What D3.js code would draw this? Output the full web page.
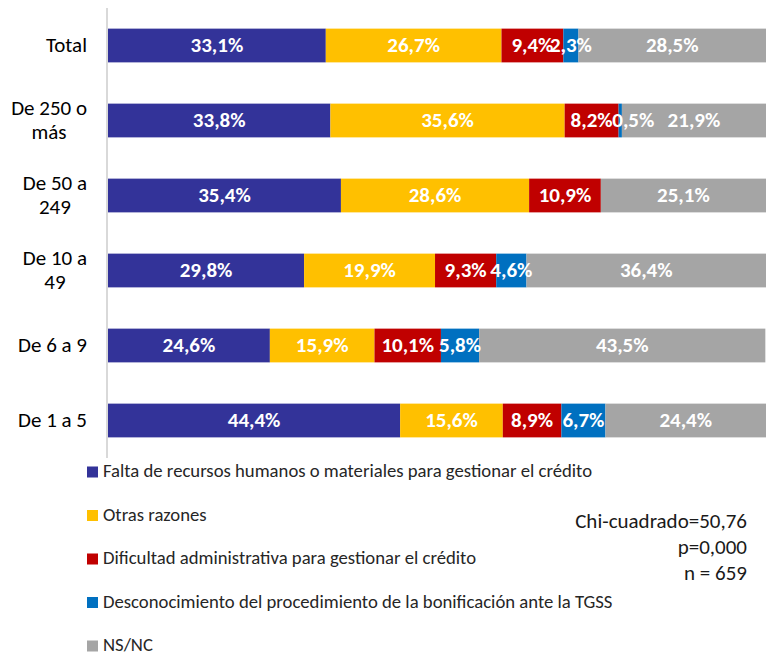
<!DOCTYPE html>
<html>
<head>
<meta charset="utf-8">
<script src="https://cdn.jsdelivr.net/npm/d3@7"></script>
<style>
  body { margin: 0; background: #fff; }
  text { font-family: Carlito, Calibri, Lato, sans-serif; }
</style>
</head>
<body>
<svg width="771" height="655"></svg>
<script>
// data
var categories = ["Total", "De 250 o más", "De 50 a 249", "De 10 a 49", "De 6 a 9", "De 1 a 5"];
var catLines = [["Total"], ["De 250 o", "más"], ["De 50 a", "249"], ["De 10 a", "49"], ["De 6 a 9"], ["De 1 a 5"]];
var series = [
  "Falta de recursos humanos o materiales para gestionar el crédito",
  "Otras razones",
  "Dificultad administrativa para gestionar el crédito",
  "Desconocimiento del procedimiento de la bonificación ante la TGSS",
  "NS/NC"
];
var falta   = [33.1, 33.8, 35.4, 29.8, 24.6, 44.4];
var otras   = [26.7, 35.6, 28.6, 19.9, 15.9, 15.6];
var dificul = [9.4, 8.2, 10.9, 9.3, 10.1, 8.9];
var descon  = [2.3, 0.5, 0, 4.6, 5.8, 6.7];
var nsnc    = [28.5, 21.9, 25.1, 36.4, 43.5, 24.4];
var stats = ["Chi-cuadrado=50,76", "p=0,000", "n = 659"];

var colors = ["#333399", "#FFC000", "#C00000", "#0070C0", "#A5A5A5"];
var allSeries = [falta, otras, dificul, descon, nsnc];

var svg = d3.select("svg");

var rows = categories.map(function(c, i) {
  var r = {cat: c};
  series.forEach(function(s, j) { r[s] = allSeries[j][i]; });
  return r;
});

var stack = d3.stack().keys(series)(rows);

var x = d3.scaleLinear().domain([0, 100]).range([108, 766]);
var y = d3.scaleBand().domain(categories).range([8, 458]).paddingInner(0.55).paddingOuter(0.275);
var z = d3.scaleOrdinal().domain(series).range(colors);

// axis line
svg.append("line")
    .attr("x1", 107).attr("x2", 107)
    .attr("y1", 8).attr("y2", 458)
    .attr("stroke", "#d9d9d9")
    .attr("stroke-width", 2);

svg.append("g")
  .selectAll("g")
  .data(stack)
  .enter().append("g")
    .attr("fill", function(d) { return z(d.key); })
  .selectAll("rect")
  .data(function(d) { return d; })
  .enter().append("rect")
    .attr("x", function(d) { return x(d[0]); })
    .attr("y", function(d) { return y(d.data.cat); })
    .attr("width", function(d) { return x(d[1]) - x(d[0]); })
    .attr("height", y.bandwidth());

// value labels (drawn after all bars)
var segs = [];
stack.forEach(function(s) {
  s.forEach(function(p) { if (p[1] - p[0] > 0) segs.push(p); });
});

svg.append("g")
    .attr("font-size", 21)
    .attr("font-weight", "bold")
    .attr("fill", "#fff")
    .attr("text-anchor", "middle")
  .selectAll("text")
  .data(segs)
  .enter().append("text")
    .attr("x", function(d) {
      var cx = (x(d[0]) + x(d[1])) / 2;
      // very thin segment: label pushed right like the original
      if (d[1] - d[0] < 1) cx += 13;
      return cx;
    })
    .attr("y", function(d) { return y(d.data.cat) + y.bandwidth() / 2; })
    .attr("dy", "0.33em")
    .text(function(d) { return (d[1] - d[0]).toFixed(1).replace(".", ",") + "%"; });

// category labels
var catG = svg.append("g")
    .attr("font-size", 21)
    .attr("fill", "#000");

categories.forEach(function(c, i) {
  var lines = catLines[i];
  var cy = y(c) + y.bandwidth() / 2;
  var lh = 24;
  var t = catG.append("text").attr("text-anchor", "middle");
  var spans = lines.map(function(l, k) {
    return t.append("tspan")
      .attr("y", cy + (k - (lines.length - 1) / 2) * lh)
      .attr("dy", "0.32em")
      .text(l);
  });
  var maxW = d3.max(spans, function(s) { return s.node().getComputedTextLength(); });
  spans.forEach(function(s) { s.attr("x", 87 - maxW / 2); });
});

// legend
var legend = svg.append("g")
    .attr("font-size", 18.7)
  .selectAll("g")
  .data(series)
  .enter().append("g")
    .attr("transform", function(d, i) { return "translate(87," + (477 + i * 43.5) + ")"; });

legend.append("rect")
    .attr("x", 0)
    .attr("y", -10.5)
    .attr("width", 11)
    .attr("height", 11)
    .attr("fill", z);

legend.append("text")
    .attr("x", 16)
    .attr("y", 0)
    .attr("fill", "#262626")
    .text(function(d) { return d; });

// statistics
svg.append("g")
    .attr("font-size", 21)
    .attr("text-anchor", "end")
    .attr("fill", "#1a1a1a")
  .selectAll("text")
  .data(stats)
  .enter().append("text")
    .attr("x", 747)
    .attr("y", function(d, i) { return 528 + i * 26; })
    .text(function(d) { return d; });
</script>
</body>
</html>
